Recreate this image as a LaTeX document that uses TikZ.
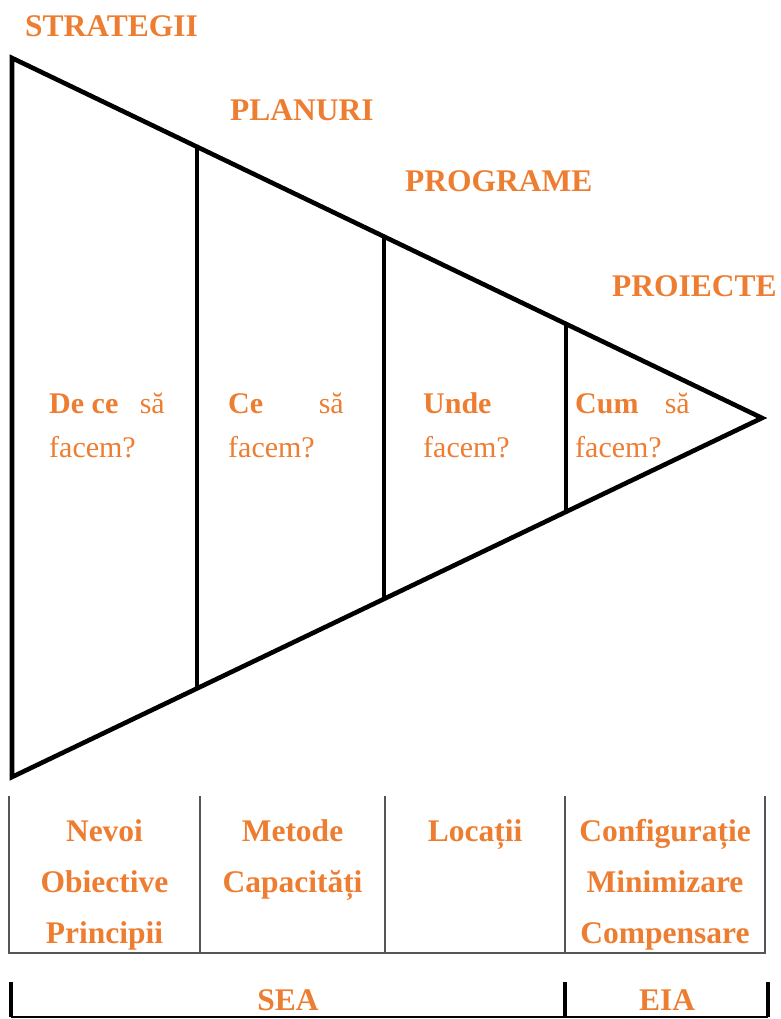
\documentclass[tikz,border=0pt]{standalone}
\usepackage{fontspec}
\setmainfont{Liberation Serif}
\usetikzlibrary{calc}
\definecolor{accent}{HTML}{ED7D31}
\definecolor{rule}{HTML}{555555}
\tikzset{
  lbl/.style={text=accent,font=\fontsize{31.5}{36}\selectfont\bfseries,inner sep=0pt},
  txt/.style={text=accent,font=\fontsize{30}{36}\selectfont,inner sep=0pt},
  tri/.style={line width=4.6pt,line join=miter,black},
  divider/.style={line width=4.6pt,black},
  cell/.style={line width=1.6pt,rule},
  tick/.style={line width=4.5pt,black},
  base/.style={line width=2pt,black}
}
\begin{document}
\begin{tikzpicture}[x=1pt,y=-1pt]
\useasboundingbox (0,0) rectangle (780,1019);
% triangle corners
\coordinate (TL) at (12,58);
\coordinate (BL) at (12,777);
\coordinate (AP) at (762,418);
\draw[tri] (TL) -- (AP) -- (BL) -- cycle;
% stage dividers
\coordinate (d1t) at ($(TL)!0.2467!(AP)$); \coordinate (d1b) at ($(BL)!0.2467!(AP)$);
\coordinate (d2t) at ($(TL)!0.496!(AP)$);  \coordinate (d2b) at ($(BL)!0.496!(AP)$);
\coordinate (d3t) at ($(TL)!0.7387!(AP)$); \coordinate (d3b) at ($(BL)!0.7387!(AP)$);
\draw[divider] (d1t) -- (d1b);
\draw[divider] (d2t) -- (d2b);
\draw[divider] (d3t) -- (d3b);
% stage titles
\node[lbl,anchor=base west] (strat) at (25,37) {STRATEGII};
\node[lbl,anchor=base west] (plan) at (230,121) {PLANURI};
\node[lbl,anchor=base west] (prog) at (405,191) {PROGRAME};
\node[lbl,anchor=base west] (proi) at (612,296) {PROIECTE};
% questions
\node[txt,anchor=base west] (q1a) at (49,413) {\bfseries De ce};
\node[txt,anchor=base east] (q1b) at (165,413) {să};
\node[txt,anchor=base west] (q1c) at (49,457) {facem?};
\node[txt,anchor=base west] (q2a) at (228,413) {\bfseries Ce};
\node[txt,anchor=base east] (q2b) at (344,413) {să};
\node[txt,anchor=base west] (q2c) at (228,457) {facem?};
\node[txt,anchor=base west] (q3a) at (423,413) {\bfseries Unde};
\node[txt,anchor=base west] (q3c) at (423,457) {facem?};
\node[txt,anchor=base west] (q4a) at (575,413) {\bfseries Cum};
\node[txt,anchor=base east] (q4b) at (690,413) {să};
\node[txt,anchor=base west] (q4c) at (575,457) {facem?};
% table of contents per stage
\draw[cell] (9,796) -- (9,953) -- (765,953) -- (765,796);
\draw[cell] (200,796) -- (200,953);
\draw[cell] (385,796) -- (385,953);
\draw[cell] (565,796) -- (565,953);
\node[lbl,anchor=base] (c1a) at (104.5,841) {Nevoi};
\node[lbl,anchor=base] (c1b) at (104.5,892) {Obiective};
\node[lbl,anchor=base] (c1c) at (104.5,943) {Principii};
\node[lbl,anchor=base] (c2a) at (292.5,841) {Metode};
\node[lbl,anchor=base] (c2b) at (292.5,892) {Capacități};
\node[lbl,anchor=base] (c3a) at (475,841) {Locații};
\node[lbl,anchor=base] (c4a) at (665,841) {Configurație};
\node[lbl,anchor=base] (c4b) at (665,892) {Minimizare};
\node[lbl,anchor=base] (c4c) at (665,943) {Compensare};
% assessment ranges
\coordinate (b0) at (11,1017);
\coordinate (b1) at (565,1017);
\coordinate (b2) at (768,1017);
\draw[base] (b0) -- (b2);
\draw[tick] (b0) -- ++(0,-35);
\draw[tick] (b1) -- ++(0,-35);
\draw[tick] (b2) -- ++(0,-35);
\node[lbl,anchor=base] (sea) at (288,1010) {SEA};
\node[lbl,anchor=base] (eia) at (667,1010) {EIA};
\end{tikzpicture}
\end{document}
